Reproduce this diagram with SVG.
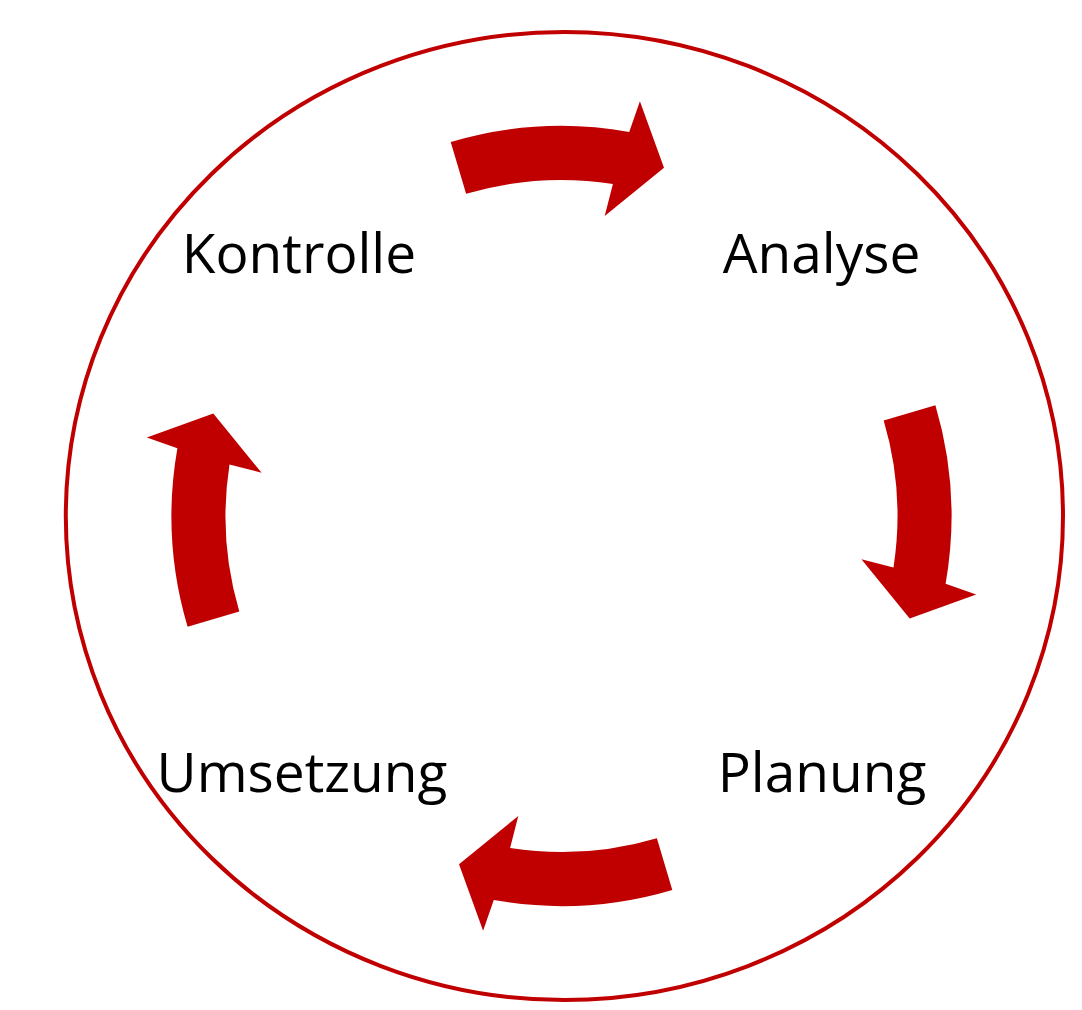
<svg xmlns="http://www.w3.org/2000/svg" xmlns:xlink="http://www.w3.org/1999/xlink" width="1082" height="1010" viewBox="0 0 1082 1010">
<style>
.lbl{font-family:"Open Sans","Noto Sans","Liberation Sans",sans-serif;font-size:55px;fill:#000;text-anchor:middle}
.arr{fill:#C00000}
</style>
<defs>
<path id="arrow" class="arr" d="M373.9,-110.8 A390,390 0 0 1 384.1,67.7 L414.7,78.4 L348.2,102.5 L299.9,43.2 L332,51.4 A336,336 0 0 0 322.2,-95.4 Z"/>
</defs>
<rect width="1082" height="1010" fill="#fff"/>
<ellipse id="ring" cx="564.4" cy="516" rx="498.6" ry="484" fill="none" stroke="#C00000" stroke-width="4"/>
<g id="connectors">
<use href="#arrow" xlink:href="#arrow" transform="translate(561.5 516) rotate(-90)"/>
<use href="#arrow" xlink:href="#arrow" transform="translate(561.5 516)"/>
<use href="#arrow" xlink:href="#arrow" transform="translate(561.5 516) rotate(90)"/>
<use href="#arrow" xlink:href="#arrow" transform="translate(561.5 516) rotate(180)"/>
</g>
<g id="kontrolle"><text class="lbl" x="299" y="273">Kontrolle</text></g>
<g id="analyse"><text class="lbl" x="821.5" y="273">Analyse</text></g>
<g id="planung"><text class="lbl" x="822" y="792">Planung</text></g>
<g id="umsetzung"><text class="lbl" x="302" y="792">Umsetzung</text></g>
</svg>
